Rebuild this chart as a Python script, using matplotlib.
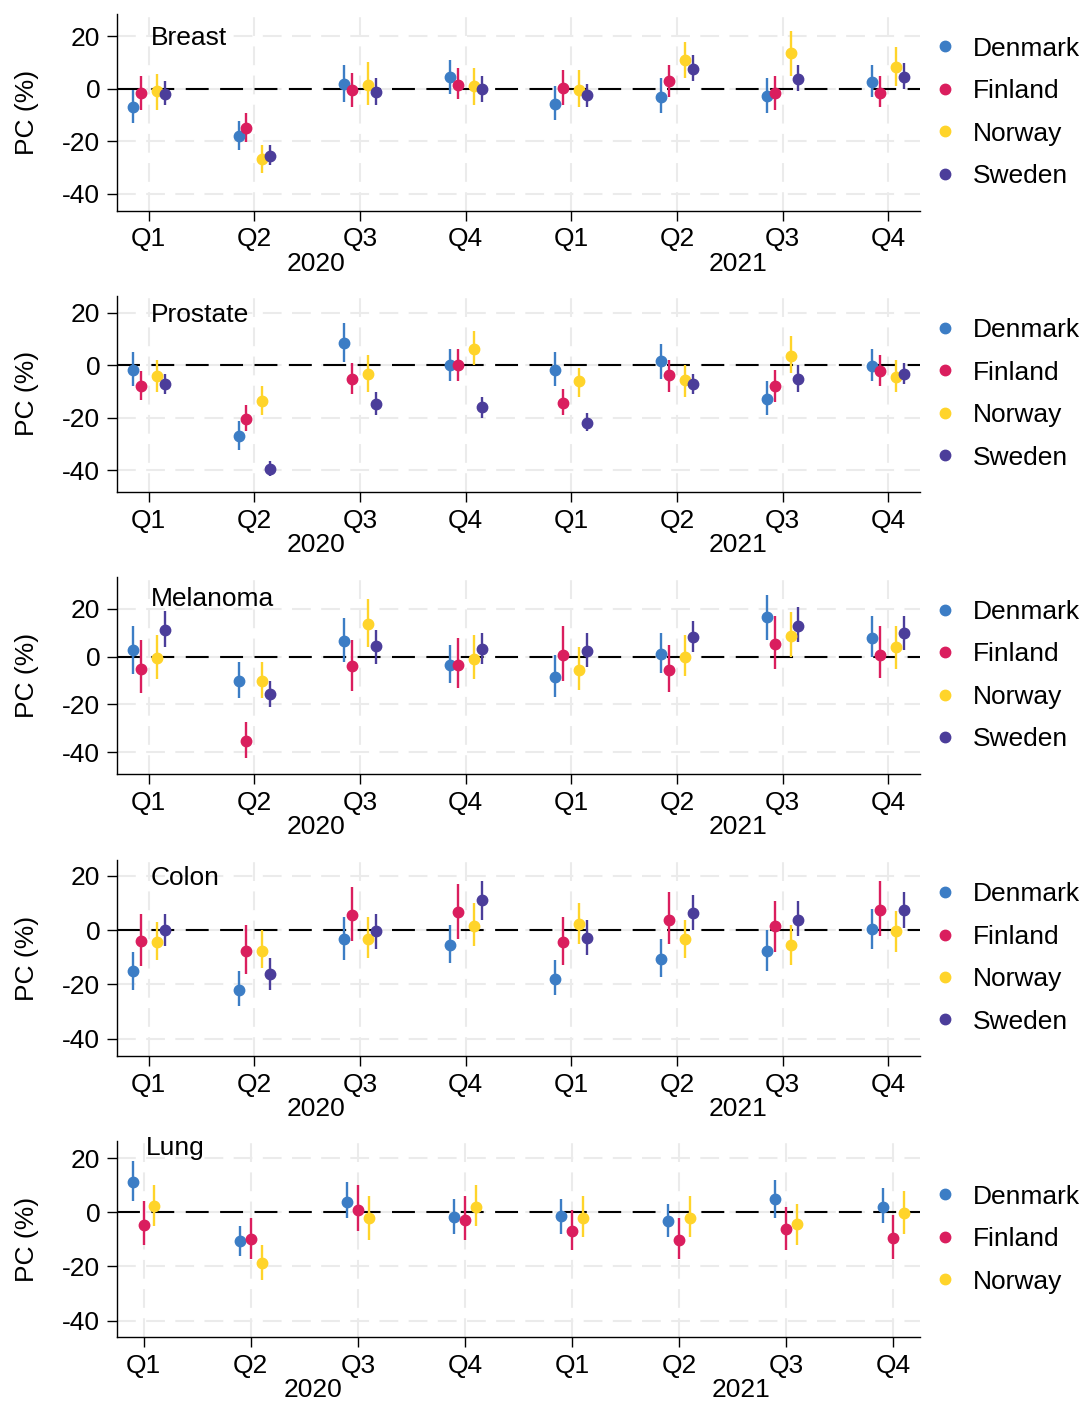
import matplotlib.pyplot as plt
from matplotlib.lines import Line2D

plt.rcParams['font.family'] = ['Liberation Sans', 'DejaVu Sans']
plt.rcParams['axes.unicode_minus'] = False

quarters = ["Q1", "Q2", "Q3", "Q4", "Q1", "Q2", "Q3", "Q4"]
years = ["2020", "2021"]
countries = ["Denmark", "Finland", "Norway", "Sweden"]
colors = {"Denmark": "#3C7DC5", "Finland": "#DA1E5E",
          "Norway": "#FFD42A", "Sweden": "#4B3D9A"}

# percent change per quarter (2020 Q1 .. 2021 Q4), with 95% CI
breast_pc = {
    "Denmark": [-7.0, -18.0, 1.8, 4.5, -5.8, -3.0, -2.8, 2.7],
    "Finland": [-1.7, -14.9, -0.4, 1.4, 0.4, 2.8, -1.6, -1.8],
    "Norway": [-0.9, -26.9, 1.5, 0.9, -0.4, 10.9, 13.5, 8.2],
    "Sweden": [-1.9, -25.6, -1.3, -0.1, -2.5, 7.5, 3.7, 4.4],
}
breast_lo = {
    "Denmark": [-13.1, -23.2, -5.1, -2.0, -12.0, -9.1, -9.1, -3.2],
    "Finland": [-8.0, -20.3, -7.1, -4.1, -6.1, -3.2, -8.1, -7.1],
    "Norway": [-8.0, -32.2, -6.1, -6.1, -7.1, 3.9, 4.9, 0.9],
    "Sweden": [-6.1, -29.2, -6.1, -5.1, -7.1, 2.9, -1.0, -0.1],
}
breast_hi = {
    "Denmark": [-0.4, -12.1, 8.9, 11.0, 0.9, 3.9, 3.9, 8.9],
    "Finland": [4.7, -9.3, 6.0, 7.9, 7.0, 8.9, 4.9, 4.9],
    "Norway": [5.7, -21.3, 10.1, 7.9, 7.0, 17.8, 21.8, 15.8],
    "Sweden": [2.8, -21.3, 3.9, 5.0, 1.9, 12.9, 8.9, 9.9],
}

prostate_pc = {
    "Denmark": [-1.7, -26.9, 8.3, 0.0, -1.9, 1.4, -12.9, -0.3],
    "Finland": [-7.8, -20.3, -5.2, 0.0, -14.4, -3.8, -8.0, -2.2],
    "Norway": [-4.2, -13.8, -3.4, 6.1, -6.2, -5.7, 3.4, -4.6],
    "Sweden": [-7.3, -39.5, -14.6, -15.9, -22.0, -7.3, -5.2, -3.2],
}
prostate_lo = {
    "Denmark": [-8.0, -32.2, 1.0, -6.0, -8.0, -5.1, -19.1, -6.0],
    "Finland": [-13.1, -25.1, -11.0, -6.0, -19.1, -10.1, -14.0, -8.0],
    "Norway": [-10.1, -19.1, -10.1, 0.0, -12.1, -12.1, -3.1, -10.1],
    "Sweden": [-11.1, -42.3, -19.1, -20.1, -25.1, -11.1, -10.1, -7.1],
}
prostate_hi = {
    "Denmark": [5.0, -21.3, 16.1, 6.0, 5.0, 8.0, -6.1, 6.0],
    "Finland": [-2.2, -15.2, 0.9, 6.0, -9.2, 1.9, -2.0, 3.9],
    "Norway": [1.9, -8.0, 3.9, 13.0, -1.1, -0.1, 11.0, 1.9],
    "Sweden": [-3.2, -36.3, -10.1, -12.1, -18.1, -3.2, -0.1, 0.9],
}

melanoma_pc = {
    "Denmark": [2.6, -10.0, 6.3, -3.5, -8.7, 1.1, 16.4, 7.9],
    "Finland": [-5.2, -35.3, -3.9, -3.5, 0.8, -5.7, 5.1, 0.8],
    "Norway": [-0.8, -10.0, 13.5, -1.0, -5.7, 0.0, 8.7, 3.9],
    "Sweden": [11.1, -15.7, 4.2, 3.3, 2.2, 8.0, 12.8, 9.9],
}
melanoma_lo = {
    "Denmark": [-7.1, -17.3, -2.1, -11.1, -17.0, -7.0, 6.8, -0.1],
    "Finland": [-15.2, -42.2, -14.2, -13.2, -10.1, -15.0, -5.1, -9.1],
    "Norway": [-9.2, -17.3, 3.9, -9.2, -13.9, -8.1, -0.1, -5.1],
    "Sweden": [3.8, -21.2, -3.2, -3.2, -4.3, 1.8, 5.9, 2.9],
}
melanoma_hi = {
    "Denmark": [12.8, -2.1, 15.9, 4.7, 0.8, 9.8, 25.7, 16.7],
    "Finland": [6.8, -27.3, 6.8, 7.8, 12.7, 4.8, 16.7, 12.7],
    "Norway": [8.9, -2.1, 24.0, 8.9, 4.0, 8.8, 18.6, 12.8],
    "Sweden": [19.0, -10.2, 11.0, 9.9, 9.8, 14.8, 20.8, 16.7],
}

colon_pc = {
    "Denmark": [-15.1, -22.1, -3.2, -5.3, -17.9, -10.8, -7.5, 0.5],
    "Finland": [-3.9, -7.5, 5.6, 6.7, -4.3, 3.6, 1.5, 7.6],
    "Norway": [-4.4, -7.5, -3.2, 1.6, 2.3, -3.2, -5.5, -0.4],
    "Sweden": [-0.1, -16.2, -0.4, 11.2, -2.7, 6.4, 3.9, 7.6],
}
colon_lo = {
    "Denmark": [-22.0, -28.1, -11.0, -12.0, -24.0, -17.1, -15.0, -7.0],
    "Finland": [-13.1, -16.0, -4.0, -3.1, -13.0, -5.0, -8.0, -2.0],
    "Norway": [-11.0, -14.0, -10.1, -6.0, -5.0, -10.1, -13.0, -8.0],
    "Sweden": [-6.0, -22.1, -7.0, 3.9, -9.0, 0.0, -2.0, 1.0],
}
colon_hi = {
    "Denmark": [-8.1, -15.1, 4.9, 2.0, -11.0, -3.1, 0.0, 8.0],
    "Finland": [6.0, 1.8, 16.0, 17.1, 4.9, 14.0, 10.9, 18.0],
    "Norway": [2.9, 0.0, 4.9, 9.9, 9.9, 3.9, 2.0, 7.0],
    "Sweden": [6.0, -10.1, 6.0, 18.0, 3.9, 13.0, 10.9, 14.0],
}

lung_pc = {
    "Denmark": [11.2, -10.7, 3.8, -1.9, -1.5, -3.2, 4.8, 2.1],
    "Finland": [-4.8, -9.8, 0.9, -2.8, -6.8, -10.3, -6.1, -9.7],
    "Norway": [2.3, -18.8, -2.3, 2.1, -2.1, -2.1, -4.4, -0.2],
}
lung_lo = {
    "Denmark": [4.0, -16.2, -2.1, -8.0, -8.0, -9.1, -2.1, -4.0],
    "Finland": [-12.1, -17.2, -7.0, -10.1, -14.0, -17.1, -14.0, -17.1],
    "Norway": [-5.1, -25.2, -10.1, -5.1, -9.1, -9.1, -12.0, -8.1],
}
lung_hi = {
    "Denmark": [19.0, -5.1, 11.0, 4.9, 4.9, 2.9, 11.9, 9.0],
    "Finland": [4.0, -2.1, 10.0, 5.9, 0.9, -2.1, 1.8, -1.1],
    "Norway": [10.0, -12.1, 5.9, 10.0, 5.9, 5.9, 2.9, 7.9],
}

panels = [
    ("Breast", breast_pc, breast_lo, breast_hi),
    ("Prostate", prostate_pc, prostate_lo, prostate_hi),
    ("Melanoma", melanoma_pc, melanoma_lo, melanoma_hi),
    ("Colon", colon_pc, colon_lo, colon_hi),
    ("Lung", lung_pc, lung_lo, lung_hi),
]

# layout (pixels of a 1084x1401 canvas)
W, H = 1084, 1401
left_px, right_px = 117, 920
boxes = [(14, 210.7), (295.7, 492), (577.3, 774), (860, 1056), (1141, 1337.3)]
ylims = [(-46.4, 28.4), (-48.25, 26.4), (-49.0, 33.05), (-46.4, 25.9), (-46.2, 26.3)]
label_y = [16.5, 16.5, 21.0, 16.5, 21.3]

fig = plt.figure(figsize=(W / 100, H / 100), dpi=100)
FS = 19

for k, (name, pc, lo, hi) in enumerate(panels):
    top, bot = boxes[k]
    ax = fig.add_axes([left_px / W, 1 - bot / H, (right_px - left_px) / W, (bot - top) / H])
    names = list(pc.keys())
    if len(names) == 4:
        offsets = [-0.15, -0.075, 0.075, 0.15]
        ax.set_xlim(-0.3, 7.3)
    else:
        offsets = [-0.1, 0.0, 0.1]
        ax.set_xlim(-0.25, 7.25)
    ax.set_ylim(*ylims[k])

    ax.grid(True, color="#EBEBEB", lw=1.5, ls=(0, (9, 5)))
    ax.set_axisbelow(True)
    ax.axhline(0, color="black", lw=1.5, ls=(0, (11, 5.5)), zorder=1)

    for c, off in zip(names, offsets):
        xs = [i + off for i in range(len(quarters))]
        ax.vlines(xs, lo[c], hi[c], color=colors[c], lw=1.7, zorder=2)
        ax.plot(xs, pc[c], "o", color=colors[c], ms=7.5, zorder=3)

    ax.set_xticks(range(len(quarters)))
    ax.set_xticklabels(quarters)
    ax.set_yticks([-40, -20, 0, 20])
    ax.tick_params(labelsize=FS, length=7, width=1, pad=5)
    for s in ["top", "right"]:
        ax.spines[s].set_visible(False)
    ax.spines["left"].set_linewidth(1)
    ax.spines["bottom"].set_linewidth(1)

    ax.set_ylabel("PC (%)", fontsize=FS)
    ax.yaxis.set_label_coords(-0.097, 0.5)

    ax.text(0.02, label_y[k], name, fontsize=FS, ha="left", va="baseline")

    for i, yr in enumerate(years):
        ax.annotate(yr, xy=(1.58 + 4 * i, 0), xycoords=("data", "axes fraction"),
                    xytext=(0, -29.5), textcoords="offset points",
                    ha="center", va="top", fontsize=FS)

    handles = [Line2D([], [], ls="none", marker="o", ms=7.5, color=colors[c]) for c in names]
    ax.legend(handles, names, loc="center left", bbox_to_anchor=(1.015, 0.5),
              frameon=False, fontsize=FS, handlelength=1.0, handletextpad=0.55,
              labelspacing=0.7, borderpad=0, borderaxespad=0)

fig.savefig("out.png", dpi=100)
